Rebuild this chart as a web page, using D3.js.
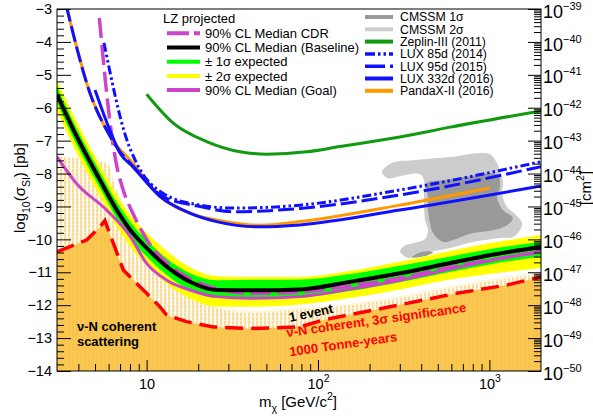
<!DOCTYPE html>
<html>
<head>
<meta charset="utf-8">
<script src="https://cdnjs.cloudflare.com/ajax/libs/d3/7.8.5/d3.min.js"></script>
<style>
body{margin:0;background:#fff;}
svg{font-family:"Liberation Sans",Arial,Helvetica,sans-serif;}
</style>
</head>
<body>
<div id="chart"></div>
<script>
// LZ projected band, mass in GeV, values are log10(sigma/pb)
const bandMass  = [3, 3.8, 5.35, 6.7, 8.3, 10, 13.1, 17.9, 25.6, 40, 78.5, 150, 300, 590, 1000, 2000];
const baseline  = [-5.60, -6.74, -8.20, -9.11, -9.81, -10.26, -10.83, -11.29, -11.54, -11.55, -11.52, -11.30, -11.03, -10.72, -10.48, -10.23];
const sig1Hi    = [-5.35, -6.50, -7.95, -8.86, -9.56, -10.02, -10.58, -11.03, -11.24, -11.23, -11.22, -11.06, -10.80, -10.52, -10.30, -10.07];
const sig1Lo    = [-5.85, -7.00, -8.45, -9.37, -10.07, -10.52, -11.08, -11.54, -11.78, -11.78, -11.76, -11.58, -11.30, -10.99, -10.76, -10.53];
const sig2Hi    = [-5.15, -6.30, -7.75, -8.65, -9.35, -9.80, -10.35, -10.85, -11.12, -11.14, -11.14, -10.97, -10.68, -10.35, -10.12, -9.87];
const sig2Lo    = [-6.10, -7.25, -8.70, -9.62, -10.32, -10.78, -11.35, -11.80, -12.04, -12.05, -11.98, -11.79, -11.52, -11.22, -11.05, -10.87];

const cdr  = [[5.3,-3.27],[5.7,-5.0],[6.1,-6.4],[6.6,-7.6],[7.3,-8.5],[8.3,-9.2],[10,-10.0],[13.1,-10.72],[17.9,-11.2],[25.6,-11.5],[40,-11.64],[78.5,-11.6],[150,-11.42],[300,-11.18],[590,-10.85],[1000,-10.63],[2000,-10.38]];
const goal = [[3,-7.49],[3.9,-8.3],[5.85,-9.11],[8.0,-9.9],[10,-10.73],[13.1,-11.24],[17.9,-11.54],[25.6,-11.74],[40,-11.79],[78.5,-11.74],[150,-11.52],[300,-11.24],[590,-10.9],[1000,-10.65],[2000,-10.36]];

// neutrino backgrounds
const nuFloor3s = [[3,-10.38],[4.47,-10.02],[5.35,-9.62],[5.71,-9.43],[7.31,-10.93],[10,-11.64],[11.97,-12.05],[13.1,-12.3],[17.1,-12.5],[24.5,-12.66],[40,-12.71],[78.5,-12.66],[107,-12.45],[263,-12.05],[644,-11.64],[1262,-11.39],[2000,-11.14]];
const oneEvent  = [[3,-7.49],[5.95,-7.68],[6.28,-8.11],[7,-8.75],[8.3,-9.45],[10,-10.05],[13.1,-10.9],[17.9,-11.6],[25.6,-12.05],[40,-12.2],[78.5,-12.1],[150,-11.98],[300,-11.75],[590,-11.45],[1000,-11.25],[2000,-11.0]];

// existing limits
const zeplin = [[10,-5.59],[14.3,-6.47],[22.4,-7.03],[35.1,-7.34],[50.2,-7.41],[85.9,-7.34],[134,-7.18],[300,-6.89],[590,-6.59],[2000,-6.1]];
const lux85  = [[5.64,-4.03],[7.67,-6.98],[8.75,-7.69],[12.45,-8.6],[20.5,-8.96],[31.9,-9.05],[78.5,-8.96],[300,-8.5],[2000,-7.64]];
const lux95  = [[3.4,-2.9],[4.67,-5.55],[6.1,-6.85],[6.7,-7.2],[8.75,-7.89],[12.45,-8.7],[20.5,-9.0],[31.9,-9.16],[78.5,-9.06],[300,-8.65],[2000,-7.79]];
const lux332 = [[5.0,-5.46],[6.1,-6.68],[7.0,-7.38],[8.3,-7.79],[12,-8.7],[17.9,-9.2],[25.6,-9.46],[46,-9.62],[78.5,-9.56],[300,-9.11],[2000,-8.38]];
const pandax = [[3.4,-2.9],[4.67,-5.55],[6.1,-6.85],[8.3,-7.68],[12,-8.7],[17.9,-9.21],[25.6,-9.41],[46,-9.57],[78.5,-9.46],[300,-8.96],[1000,-8.44]];

// CMSSM regions
const cmssm2 = [[236,-7.95],[270,-7.68],[373,-7.59],[589,-7.50],[846,-7.38],[1007,-7.41],[1107,-7.68],[1200,-8.29],[1184,-8.59],[1267,-9.02],[1390,-9.20],[1549,-9.50],[1507,-9.72],[1372,-9.93],[1153,-9.96],[802,-10.08],[589,-10.26],[432,-10.39],[378,-10.45],[344,-10.57],[313,-10.48],[301,-10.36],[318,-10.20],[363,-10.11],[421,-9.99],[438,-9.72],[421,-9.41],[415,-8.81],[415,-8.20],[394,-8.02],[301,-8.08],[256,-8.14]];
const cmssm1 = [[432,-8.29],[536,-8.20],[740,-8.10],[968,-7.99],[1122,-8.05],[1153,-8.41],[1107,-8.71],[1200,-9.11],[1372,-9.35],[1267,-9.57],[1050,-9.72],[802,-9.81],[613,-10.02],[536,-10.08],[469,-9.81],[450,-9.50],[438,-9.11],[438,-8.71]];
const cmssm1b = [[353,-10.55],[383,-10.42],[438,-10.36],[469,-10.39],[438,-10.48],[383,-10.54]];

const lzLabels  = ["90% CL Median CDR","90% CL Median (Baseline)","\u00b1 1\u03c3 expected","\u00b1 2\u03c3 expected","90% CL Median (Goal)"];
const expLabels = ["CMSSM 1\u03c3","CMSSM 2\u03c3","Zeplin-III (2011)","LUX 85d (2014)","LUX 95d (2015)","LUX 332d (2016)","PandaX-II (2016)"];

const W = 593, H = 416;
const L = 57, R = 541, T = 9, B = 371;

const x = d3.scaleLog().domain([3, 2000]).range([L, R]);
const y = d3.scaleLinear().domain([-14, -3]).range([B, T]);
const yR = d3.scaleLog().domain([1e-50, 1e-39]).range([B, T]);

const MAG = "#cc44cc", BLUE = "#1010ff", ORG = "#ff9900", ZGREEN = "#109a10";

const svg = d3.select("#chart").append("svg").attr("width", W).attr("height", H);
const defs = svg.append("defs");
defs.append("clipPath").attr("id", "plot").append("rect")
  .attr("x", L).attr("y", T).attr("width", R - L).attr("height", B - T);

// striped fill for the one-event region
const hatch = defs.append("pattern").attr("id", "hatch").attr("patternUnits", "userSpaceOnUse")
  .attr("width", 4).attr("height", 4);
hatch.append("rect").attr("width", 4).attr("height", 4).attr("fill", "#fadb95");
hatch.append("rect").attr("x", 2).attr("width", 2).attr("height", 4).attr("fill", "#fffaf0");
hatch.append("rect").attr("x", 0).attr("y", 0).attr("width", 1).attr("height", 1).attr("fill", "#fff3d6");

const g = svg.append("g").attr("clip-path", "url(#plot)");

const line = d3.line().x(d => x(d[0])).y(d => y(d[1])).curve(d3.curveMonotoneX);
const lineLin = d3.line().x(d => x(d[0])).y(d => y(d[1]));
const poly = d3.line().x(d => x(d[0])).y(d => y(d[1])).curve(d3.curveCatmullRomClosed.alpha(0.5));
const band = (hi, lo) => d3.area()
  .x((d, i) => x(bandMass[i])).y0((d, i) => y(lo[i])).y1((d, i) => y(hi[i]))
  .curve(d3.curveMonotoneX)(bandMass);

// neutrino regions
g.append("path")
  .attr("d", d3.area().x(d => x(d[0])).y0(y(-14.5)).y1(d => y(d[1])).curve(d3.curveMonotoneX)(oneEvent))
  .attr("fill", "url(#hatch)");
g.append("path")
  .attr("d", d3.area().x(d => x(d[0])).y0(y(-14.5)).y1(d => y(d[1]))(nuFloor3s))
  .attr("fill", "#f8c244").attr("opacity", 0.92);
g.append("path").attr("d", line(oneEvent.filter(d => d[0] > 12)))
  .attr("fill", "none").attr("stroke", "#fff6df").attr("stroke-width", 2);

// CMSSM
g.append("path").attr("d", poly(cmssm2)).attr("fill", "#cccccc");
g.append("path").attr("d", poly(cmssm1)).attr("fill", "#999999");
g.append("path").attr("d", poly(cmssm1b)).attr("fill", "#999999");

// LZ bands
g.append("path").attr("d", band(sig2Hi, sig2Lo)).attr("fill", "#ffff00");
g.append("path").attr("d", band(sig1Hi, sig1Lo)).attr("fill", "#00ff00");

const curve = (data, color, w, dash, gen) => g.append("path")
  .attr("d", (gen || line)(data)).attr("fill", "none")
  .attr("stroke", color).attr("stroke-width", w)
  .attr("stroke-dasharray", dash || null);

curve(goal, MAG, 3);
curve(cdr, MAG, 3.5, "20,7");
curve(bandMass.map((m, i) => [m, baseline[i]]), "#000", 4);
curve(nuFloor3s, "#ff0000", 3.5, "18,8", lineLin);

curve(zeplin, ZGREEN, 3);
curve(pandax, ORG, 3);
curve(lux332, BLUE, 3);
curve(lux95, BLUE, 3, "16,5");
curve(lux85, BLUE, 3, "9,3,2.5,3,2.5,3");

// axes
const fontTick = 14.5;
const ax = (sel) => sel.call(s => s.select(".domain").remove())
  .selectAll(".tick line").attr("stroke", "#000");

const majY = d3.range(-14, -2.5, 1);
const minY = d3.range(-14, -3, 0.2).filter(v => Math.abs(v - Math.round(v)) > 0.01);
svg.append("g").attr("transform", `translate(${L},0)`)
  .call(d3.axisLeft(y).tickValues(minY).tickSize(-7).tickFormat("")).call(ax);
const gyl = svg.append("g").attr("transform", `translate(${L},0)`)
  .call(d3.axisLeft(y).tickValues(majY).tickSize(-14).tickPadding(5).tickFormat(d3.format("d")));
gyl.call(ax);
gyl.selectAll("text").attr("font-size", fontTick).attr("font-family", null).attr("fill", "#000");

const majX = [10, 100, 1000];
const minX = [];
[1, 10, 100, 1000].forEach(dec => d3.range(2, 10).forEach(k => {
  const v = k * dec; if (v > 3 && v < 2000) minX.push(v);
}));
svg.append("g").attr("transform", `translate(0,${B})`)
  .call(d3.axisBottom(x).tickValues(minX).tickSize(-7).tickFormat("")).call(ax);
const gx = svg.append("g").attr("transform", `translate(0,${B})`)
  .call(d3.axisBottom(x).tickValues(majX).tickSize(-11).tickPadding(8));
gx.call(ax);
gx.selectAll(".tick text").attr("font-family", null).attr("fill", "#000").each(function (d) {
  const t = d3.select(this).text("").attr("font-size", fontTick);
  const e = Math.round(Math.log10(d));
  t.append("tspan").text("10");
  if (e > 1) t.append("tspan").attr("dy", -7).attr("font-size", 10.5).text(e);
});

const majR = d3.range(-50, -38).map(e => Math.pow(10, e));
const minR = [];
d3.range(-50, -39).forEach(e => d3.range(2, 10).forEach(k => minR.push(k * Math.pow(10, e))));
svg.append("g").attr("transform", `translate(${R},0)`)
  .call(d3.axisRight(yR).tickValues(minR).tickSize(-7).tickFormat("")).call(ax);
const gyr = svg.append("g").attr("transform", `translate(${R},0)`)
  .call(d3.axisRight(yR).tickValues(majR).tickSize(-13).tickPadding(2));
gyr.call(ax);
gyr.selectAll(".tick text").attr("font-family", null).attr("fill", "#000").each(function (d) {
  const t = d3.select(this).text("").attr("font-size", 18).attr("dy", "0.45em");
  const e = Math.round(Math.log10(d));
  t.append("tspan").text("10");
  t.append("tspan").attr("dy", -8).attr("font-size", 11).text("\u2212" + Math.abs(e));
});

svg.append("rect").attr("x", L).attr("y", T).attr("width", R - L).attr("height", B - T)
  .attr("fill", "none").attr("stroke", "#000").attr("stroke-width", 1);

// rich text helper (sub / sup)
const rich = (txt, parts, size) => {
  let cur = 0;
  parts.forEach(([s, k]) => {
    const off = k === "sub" ? size * 0.3 : k === "sup" ? -size * 0.45 : 0;
    txt.append("tspan").attr("dy", off - cur).attr("font-size", k ? size * 0.7 : size).text(s);
    cur = off;
  });
};

rich(svg.append("text").attr("transform", "translate(25,188) rotate(-90)").attr("text-anchor", "middle"),
  [["log"], ["10", "sub"], ["(\u03c3"], ["SI", "sub"], [") [pb]"]], 15);
rich(svg.append("text").attr("transform", "translate(591,188) rotate(-90)").attr("text-anchor", "middle"),
  [["[cm"], ["2", "sup"], ["]"]], 15);
rich(svg.append("text").attr("x", 298).attr("y", 407).attr("text-anchor", "middle"),
  [["m"], ["\u03c7", "sub"], [" [GeV/c"], ["2", "sup"], ["]"]], 15);

// annotations
const note = (m, v, rot, txt, color) => svg.append("text")
  .attr("transform", `translate(${x(m)},${y(v)}) rotate(${rot})`)
  .attr("font-size", 13).attr("font-weight", "bold").attr("fill", color).text(txt);
note(3.92, -12.79, 0, "\u03bd-N coherent", "#000");
note(3.92, -13.24, 0, "scattering", "#000");
note(68.6, -12.51, -12, "1 event", "#000");
note(65.9, -12.97, -8, "\u03bd-N coherent, 3\u03c3 significance", "#ff0000");
note(68.6, -13.55, -8, "1000 Tonne-years", "#ff0000");

// legends
const legLine = (x0, x1, yy, color, w, dash) => svg.append("line")
  .attr("x1", x0).attr("x2", x1).attr("y1", yy).attr("y2", yy)
  .attr("stroke", color).attr("stroke-width", w).attr("stroke-dasharray", dash || null);

svg.append("text").attr("x", 163).attr("y", 23).attr("font-size", 13).text("LZ projected");
const lzStyle = [[MAG, 4, "22,5"], ["#000", 4], ["#00ff00", 4], ["#ffff00", 4], [MAG, 4]];
lzLabels.forEach((lab, i) => {
  const yy = 33.3 + i * 14.2;
  legLine(167, 200, yy, ...lzStyle[i]);
  svg.append("text").attr("x", 205).attr("y", yy + 4.6).attr("font-size", 13).text(lab);
});

const expStyle = [["#999999", 4], ["#cccccc", 4], [ZGREEN, 4], [BLUE, 3.5, "10,3,2.5,3,2.5,3"], [BLUE, 3.5, "20,5"], [BLUE, 4], [ORG, 4]];
expLabels.forEach((lab, i) => {
  const yy = 17 + i * 12.3;
  legLine(365, 393, yy, ...expStyle[i]);
  svg.append("text").attr("x", 400).attr("y", yy + 4.4).attr("font-size", 12.3).text(lab);
});
</script>
</body>
</html>
